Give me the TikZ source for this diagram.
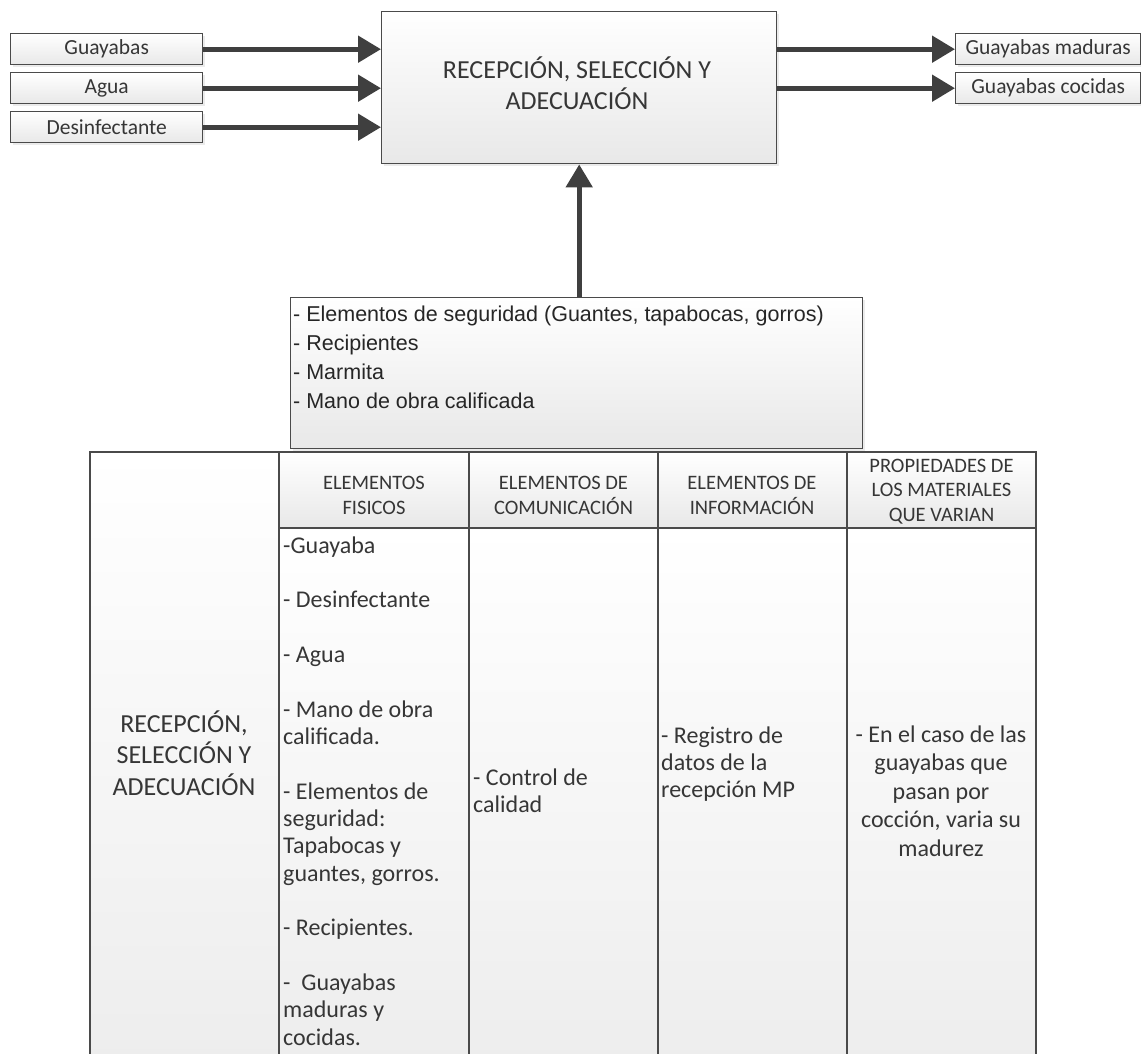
\documentclass[tikz,border=0pt]{standalone}
\usepackage{fontspec}
\setmainfont{Carlito}
\newfontfamily\arialfont{Liberation Sans}
\usetikzlibrary{arrows.meta,shadows}

\definecolor{ink}{HTML}{363636}
\definecolor{edge}{HTML}{4A4A4A}
\definecolor{flow}{HTML}{3F3F3F}

\tikzset{
  box/.style={draw=edge, line width=1.4pt, top color=white, bottom color=black!9,
    drop shadow={opacity=0.16, shadow xshift=2pt, shadow yshift=-2pt},
    inner sep=0pt, anchor=north west},
  iobox/.style={box, minimum height=31pt, text=ink,
    font=\fontsize{21.5}{25}\selectfont},
  flowarrow/.style={draw=flow, line width=5pt, -{Triangle[length=23pt,width=26pt]}},
  gridline/.style={draw=edge, line width=1.8pt},
  bodycell/.style={top color=white, bottom color=black!7},
  headcell/.style={top color=white, bottom color=black!9},
  title/.style={text=ink, inner sep=0pt, align=center,
    font=\fontsize{26}{31}\selectfont},
  headtext/.style={text=ink, inner sep=0pt, align=center,
    font=\fontsize{20.5}{25.5}\selectfont},
  bodytext/.style={text=ink, inner sep=0pt, align=left,
    font=\fontsize{24}{27.35}\selectfont},
  restext/.style={text=black!85, inner sep=0pt, align=left,
    font=\arialfont\fontsize{21.5}{28.7}\selectfont},
}

\begin{document}
\begin{tikzpicture}[x=1pt,y=-1pt]
\useasboundingbox (0,0) rectangle (1141,1054);
\clip (0,0) rectangle (1141,1054);

% ---- process block with its inputs and outputs ----
% (multi-line nodes below are placed by the baseline of their last line)
\node[box, minimum width=395pt, minimum height=152pt] (main) at (381,11) {};
\node[title, anchor=base] (ttl) at (577,110)
  {RECEPCIÓN, SELECCIÓN Y\\ADECUACIÓN};

\node[iobox, minimum width=192pt] (gua) at (10,33) {Guayabas};
\node[iobox, minimum width=192pt] (agu) at (10,72) {Agua};
\node[iobox, minimum width=192pt] (des) at (10,111) {Desinfectante};

\node[iobox, minimum width=185pt] (mad) at (955,33) {Guayabas maduras};
\node[iobox, minimum width=185pt] (coc) at (955,72) {Guayabas cocidas};

\draw[flowarrow] (gua.east) -- (gua.east -| main.west);
\draw[flowarrow] (agu.east) -- (agu.east -| main.west);
\draw[flowarrow] (des.east) -- (des.east -| main.west);
\draw[flowarrow] (main.east |- mad.west) -- (mad.west);
\draw[flowarrow] (main.east |- coc.west) -- (coc.west);

% ---- resources feeding the process ----
\node[box, minimum width=572pt, minimum height=151pt] (res) at (290,297) {};
\node[restext, anchor=base west] (rest) at (293,408)
  {- Elementos de seguridad (Guantes, tapabocas, gorros)\\
   - Recipientes\\
   - Marmita\\
   - Mano de obra calificada};
\draw[flowarrow] (main.south |- res.north) -- (main.south);

% ---- table of elements ----
\fill[bodycell] (90,452) rectangle (279,1060);
\fill[headcell] (279,452) rectangle (1036,528);
\fill[bodycell] (279,528) rectangle (1036,1060);
\draw[gridline] (90,1060) -- (90,452) -- (1036,452) -- (1036,1060);
\draw[gridline] (279,528) -- (1036,528);
\foreach \xx in {279,469,658,847}
  \draw[gridline] (\xx,452) -- (\xx,1060);

\node[headtext, anchor=base] (h1) at (374,514.5) {ELEMENTOS\\FISICOS};
\node[headtext, anchor=base] (h2) at (563.5,514.5) {ELEMENTOS DE\\COMUNICACIÓN};
\node[headtext, anchor=base] (h3) at (752,514.5) {ELEMENTOS DE\\INFORMACIÓN};
\node[headtext, anchor=base, font=\fontsize{20.5}{24.5}\selectfont] (h4) at (941.5,521)
  {PROPIEDADES DE\\LOS MATERIALES\\QUE VARIAN};

\node[text=ink, inner sep=0pt, align=center, font=\fontsize{26}{31.5}\selectfont,
  anchor=base] (stage) at (184,795) {RECEPCIÓN,\\SELECCIÓN Y\\ADECUACIÓN};

\node[bodytext, anchor=base west] (fis) at (283,1045.3)
  {-Guayaba\\[27.35pt]
   - Desinfectante\\[27.35pt]
   - Agua\\[27.35pt]
   - Mano de obra\\calificada.\\[27.35pt]
   - Elementos de\\seguridad:\\Tapabocas y\\guantes, gorros.\\[27.35pt]
   - Recipientes.\\[27.35pt]
   -\ \ Guayabas\\maduras y\\cocidas.};

\node[bodytext, anchor=base west, font=\fontsize{24}{27}\selectfont] (com) at (473,812)
  {- Control de\\calidad};
\node[bodytext, anchor=base west, font=\fontsize{24}{27}\selectfont] (inf) at (661,797)
  {- Registro de\\datos de la\\recepción MP};
\node[bodytext, align=center, anchor=base, font=\fontsize{24}{28.5}\selectfont] (pro) at (941,856)
  {- En el caso de las\\guayabas que\\pasan por\\cocción, varia su\\madurez};
\end{tikzpicture}
\end{document}
